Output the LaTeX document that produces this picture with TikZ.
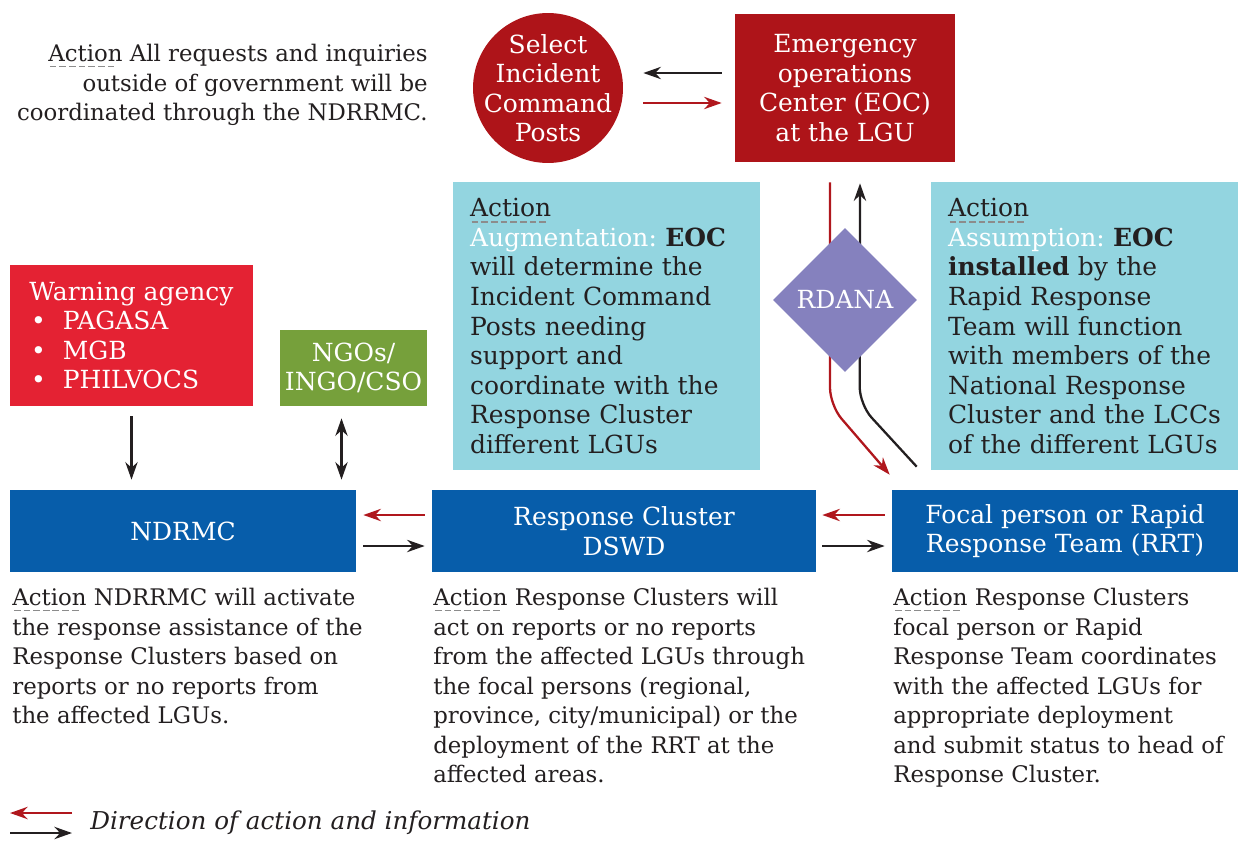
\documentclass[tikz,border=0pt]{standalone}
\usepackage{fontspec}
\setmainfont{DejaVu Serif}
\usetikzlibrary{arrows.meta, positioning, shapes.geometric}

\definecolor{eocred}{HTML}{AE1419}
\definecolor{warnred}{HTML}{E42233}
\definecolor{ngogreen}{HTML}{76A03B}
\definecolor{clusterblue}{HTML}{075DAA}
\definecolor{actioncyan}{HTML}{93D5E0}
\definecolor{rdanapurple}{HTML}{8581BE}
\definecolor{flowred}{HTML}{B0171D}
\definecolor{inkgray}{HTML}{231F20}

% "Action" with a grey dashed underline
\newlength{\actlen}
\newcommand{\actw}{\settowidth{\actlen}{Action}%
  \rlap{\color{black!45}\raisebox{-3.2pt}{\leaders\hbox to 5.5pt{\hss\rule{3.8pt}{1pt}\hss}\hskip\actlen}}Action}

\frenchspacing

\begin{document}
\begin{tikzpicture}[
        x=0.02cm, y=-0.02cm,
        >=Stealth,
        lbl/.style={font=\fontsize{13}{16.8}\selectfont, text=inkgray, inner sep=0pt, align=left},
        wtxt/.style={text=white, align=center, inner sep=0pt, font=\fontsize{14.2}{16.8}\selectfont},
        blk/.style={fill=#1, wtxt},
        pane/.style={fill=actioncyan, inner sep=0pt, minimum width=6.14cm, minimum height=5.76cm,
                     text width=5.46cm, align=left, text=inkgray, font=\fontsize{14.2}{16.8}\selectfont},
        fw/.style={-{Stealth[length=10pt, width=7pt]}, line width=1.3pt, inkgray},
        bw/.style={-{Stealth[length=10pt, width=7pt]}, line width=1.3pt, flowred},
        dw/.style={{Stealth[length=10pt, width=7pt]}-{Stealth[length=10pt, width=7pt]}, line width=1.3pt, inkgray}
    ]
        \useasboundingbox (0,0) rectangle (1240,842);

        % top row
        \node[lbl, align=right, anchor=north east] (gov) at (428,44)
            {\actw{} All requests and inquiries\\outside of government will be\\coordinated through the NDRRMC.};
        \node[circle, fill=eocred, minimum size=3cm, inner sep=0pt,
              label={[wtxt]center:{Select\\Incident\\Command\\Posts}}] (icp) at (548,88) {};
        \node[blk=eocred, minimum width=4.4cm, minimum height=2.96cm] (eoc) at (845,88)
            {Emergency\\operations\\Center (EOC)\\at the LGU};

        % action panes
        \node[pane] (augpane) at (606.5,326)
            {\actw\\{\color{white}Augmentation:} \textbf{EOC}\\will determine the\\Incident Command\\Posts needing\\support and\\coordinate with the\\Response Cluster\\different LGUs};
        \node[pane] (asmpane) at (1084.5,326)
            {\actw\\{\color{white}Assumption:} \textbf{EOC}\\\textbf{installed} by the\\Rapid Response\\Team will function\\with members of the\\National Response\\Cluster and the LCCs\\of the different LGUs};

        % agencies
        \node[blk=warnred, align=left, minimum width=4.86cm, minimum height=2.82cm] (warn) at (131.5,335.5)
            {Warning agency\\\hspace*{1pt}\makebox[18pt][l]{•}PAGASA\\\hspace*{1pt}\makebox[18pt][l]{•}MGB\\\hspace*{1pt}\makebox[18pt][l]{•}PHILVOCS};
        \node[blk=ngogreen, minimum width=2.94cm, minimum height=1.52cm] (ngo) at (353.5,368) {NGOs/\\INGO/CSO};

        % cluster row
        \node[blk=clusterblue, minimum width=6.92cm, minimum height=1.64cm] (ndrmc) at (183,531) {NDRMC};
        \node[blk=clusterblue, minimum width=7.68cm, minimum height=1.64cm] (rc) at (624,531) {Response Cluster\\DSWD};
        \node[blk=clusterblue, minimum width=6.92cm, minimum height=1.64cm] (rrt) at (1065,531) {Focal person or Rapid\\Response Team (RRT)};

        \node[lbl, anchor=north west] (ndrmcact) at (12,588)
            {\actw{} NDRRMC will activate\\the response assistance of the\\Response Clusters based on\\reports or no reports from\\the affected LGUs.};
        \node[lbl, anchor=north west] (rcact) at (433,588)
            {\actw{} Response Clusters will\\act on reports or no reports\\from the affected LGUs through\\the focal persons (regional,\\province, city/municipal) or the\\deployment of the RRT at the\\affected areas.};
        \node[lbl, anchor=north west] (rrtact) at (893,588)
            {\actw{} Response Clusters\\focal person or Rapid\\Response Team coordinates\\with the affected LGUs for\\appropriate deployment\\and submit status to head of\\Response Cluster.};

        % flows
        \draw[fw, shorten <=0.26cm, shorten >=0.4cm] ([yshift=0.3cm]eoc.west) -- ([yshift=0.3cm]icp.east);
        \draw[bw, shorten <=0.4cm, shorten >=0.26cm] ([yshift=-0.3cm]icp.east) -- ([yshift=-0.3cm]eoc.west);
        \draw[bw, rounded corners=10pt] ([xshift=-0.3cm, yshift=-0.4cm]eoc.south) -- ++(0,223)
            -- ([xshift=-0.04cm, yshift=0.3cm]rrt.north west);
        \draw[fw, rounded corners=10pt] ([xshift=0.5cm, yshift=0.46cm]rrt.north west) -- ++(-57,-62)
            -- ([xshift=0.3cm, yshift=-0.42cm]eoc.south);
        \node[diamond, fill=rdanapurple, minimum width=2.88cm, minimum height=2.88cm, wtxt] (rdana) at (845,300) {RDANA};

        \draw[fw] ([yshift=-0.2cm]warn.south) -- ([yshift=0.2cm]warn.south |- ndrmc.north);
        \draw[dw] ([xshift=-0.24cm, yshift=-0.24cm]ngo.south) -- ([xshift=-0.24cm, yshift=0.2cm]ngo.south |- ndrmc.north);
        \draw[bw] ([xshift=-0.14cm, yshift=0.32cm]rc.west) -- ([xshift=0.14cm, yshift=0.32cm]ndrmc.east);
        \draw[fw] ([xshift=0.14cm, yshift=-0.3cm]ndrmc.east) -- ([xshift=-0.14cm, yshift=-0.3cm]rc.west);
        \draw[bw] ([xshift=-0.14cm, yshift=0.32cm]rrt.west) -- ([xshift=0.12cm, yshift=0.32cm]rc.east);
        \draw[fw] ([xshift=0.12cm, yshift=-0.3cm]rc.east) -- ([xshift=-0.14cm, yshift=-0.3cm]rrt.west);

        % legend
        \node[inner sep=0pt, anchor=west, text=inkgray, font=\itshape\fontsize{14}{16}\selectfont] (legend) at (90,823)
            {Direction of action and information};
        \draw[bw] ([xshift=-0.36cm, yshift=0.2cm]legend.west) -- ([xshift=-1.6cm, yshift=0.2cm]legend.west);
        \draw[fw] ([xshift=-1.6cm, yshift=-0.2cm]legend.west) -- ([xshift=-0.36cm, yshift=-0.2cm]legend.west);
    \end{tikzpicture}
\end{document}
